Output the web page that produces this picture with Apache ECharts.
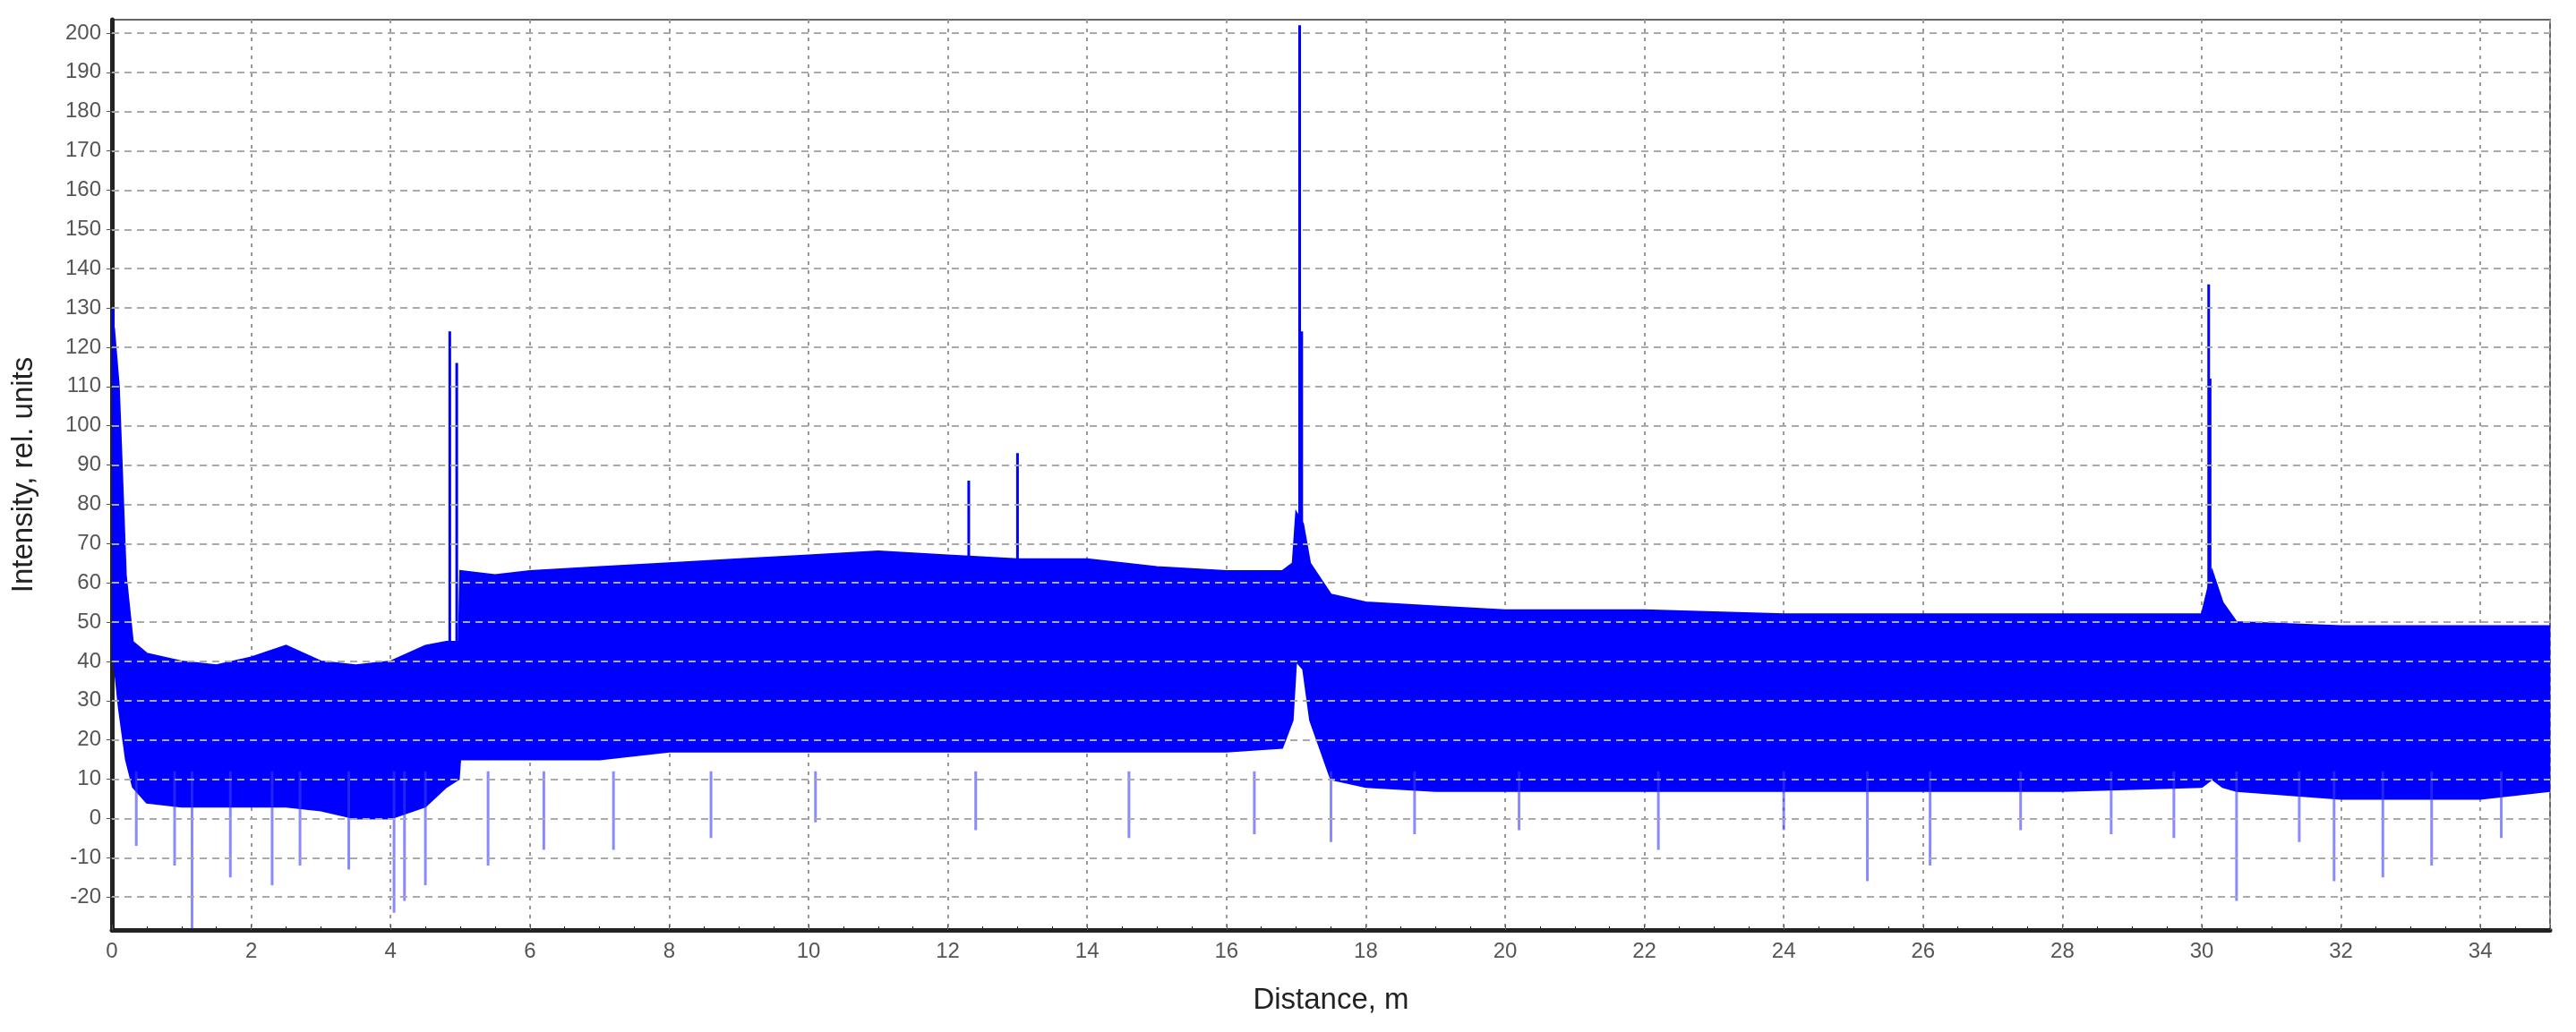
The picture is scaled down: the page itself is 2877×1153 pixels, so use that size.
<!DOCTYPE html>
<html><head><meta charset="utf-8">
<script src="https://cdn.jsdelivr.net/npm/echarts@6/dist/echarts.min.js"></script>
<style>html,body{margin:0;background:#fff}#c{width:2877px;height:1153px}</style>
</head><body><div id="c"></div>
<script>
// Envelope of the dense noise band: distance (m), upper edge, lower solid edge
const envX     = [0,0.03,0.1,0.2,0.3,0.5,1.0,1.5,2.0,2.5,3.0,3.5,4.0,4.5,4.8,4.98,5.0,5.5,6,7,8,9,10,11,12,13,14,15,16,16.8,16.95,17.0,17.1,17.2,17.5,18,19,20,22,24,26,28,30,30.15,30.3,30.5,32,34,35];
const envUpper = [60,125,110,62,45,42,40,39,41,44,40,39,40,44,45,45,63,62,63,64,65,66,67,68,67,66,66,64,63,63,65,78,75,65,57,55,54,53,53,52,52,52,52,63,55,50,49,49,49];
const envLower = [50,40,28,15,8,4,3,3,3,3,2,0,0,3,8,10,15,15,15,15,17,17,17,17,17,17,17,17,17,18,25,40,38,25,10,8,7,7,7,7,7,7,8,10,8,7,5,5,7];
// Isolated upward peaks: distance, peak value
const peakX = [0.02,4.85,4.95,12.3,13.0,17.05,17.08,30.1,30.12];
const peakY = [130,124,116,86,93,202,124,136,112];
// Isolated downward dips: distance, dip value
const dipX = [0.35,0.9,1.15,1.7,2.3,2.7,3.4,4.05,4.2,4.5,5.4,6.2,7.2,8.6,10.1,12.4,14.6,16.4,17.5,18.7,20.2,22.2,24.0,25.2,26.1,27.4,28.7,29.6,30.5,31.4,31.9,32.6,33.3,34.3];
const dipY = [-7,-12,-28,-15,-17,-12,-13,-24,-21,-17,-12,-8,-8,-5,-1,-3,-5,-4,-6,-4,-3,-8,-3,-16,-12,-3,-4,-5,-21,-6,-16,-15,-12,-5];
const yTicks = [-20,-10,0,10,20,30,40,50,60,70,80,90,100,110,120,130,140,150,160,170,180,190,200];

const peakData = []; peakX.forEach((x,i)=>{peakData.push([x,40],[x,peakY[i]],[x,'-']);});
const dipData = []; dipX.forEach((x,i)=>{dipData.push([x,12],[x,dipY[i]],[x,'-']);});
const font = 'Liberation Sans, Arial, sans-serif';
const chart = echarts.init(document.getElementById('c'));
chart.setOption({
  animation:false,
  grid:{left:125,right:29,top:22,bottom:114,show:true,borderColor:'#666',borderWidth:2},
  xAxis:{type:'value',min:0,max:35,interval:2,
    name:'Distance, m',nameLocation:'middle',nameGap:62,nameTextStyle:{fontFamily:font,fontSize:33,color:'#222'},
    axisLine:{onZero:false,lineStyle:{color:'#222',width:5}},
    axisTick:{inside:true,length:6,lineStyle:{color:'#555'}},
    minorTick:{show:true,splitNumber:4,length:4},
    axisLabel:{fontFamily:font,fontSize:24,color:'#555',margin:12,showMaxLabel:false},
    splitLine:{show:true,lineStyle:{type:[4,6],color:'#999',width:2}}},
  yAxis:{type:'value',min:-28.4,max:203.4,
    name:'Intensity, rel. units',nameLocation:'middle',nameGap:82,nameTextStyle:{fontFamily:font,fontSize:33,color:'#222'},
    axisLine:{show:true,lineStyle:{color:'#222',width:5}},
    axisTick:{show:true,customValues:yTicks,length:6,lineStyle:{color:'#555'}},
    axisLabel:{customValues:yTicks,fontFamily:font,fontSize:24,color:'#555',margin:12},
    splitLine:{show:false}},
  series:[
    {type:'line',data:[],symbol:'none',silent:true,
     markLine:{silent:true,symbol:'none',label:{show:false},lineStyle:{type:[8,6],color:'#aaa',width:2},
       data:yTicks.map(v=>({yAxis:v}))}},
    {type:'line',data:dipData,symbol:'none',lineStyle:{width:3,color:'rgba(60,60,255,0.6)'}},
    {type:'custom',data:[0],clip:true,renderItem:(params,api)=>{
      const pts=[];
      envX.forEach((x,i)=>pts.push(api.coord([x,envUpper[i]])));
      for(let i=envX.length-1;i>=0;i--) pts.push(api.coord([envX[i],envLower[i]]));
      return {type:'polygon',shape:{points:pts},style:{fill:'#0000ff',stroke:'#0000ff',lineWidth:2}};
    }},
    {type:'line',data:peakData,symbol:'none',lineStyle:{width:3,color:'#0000ff'}}
  ]
});
</script></body></html>
